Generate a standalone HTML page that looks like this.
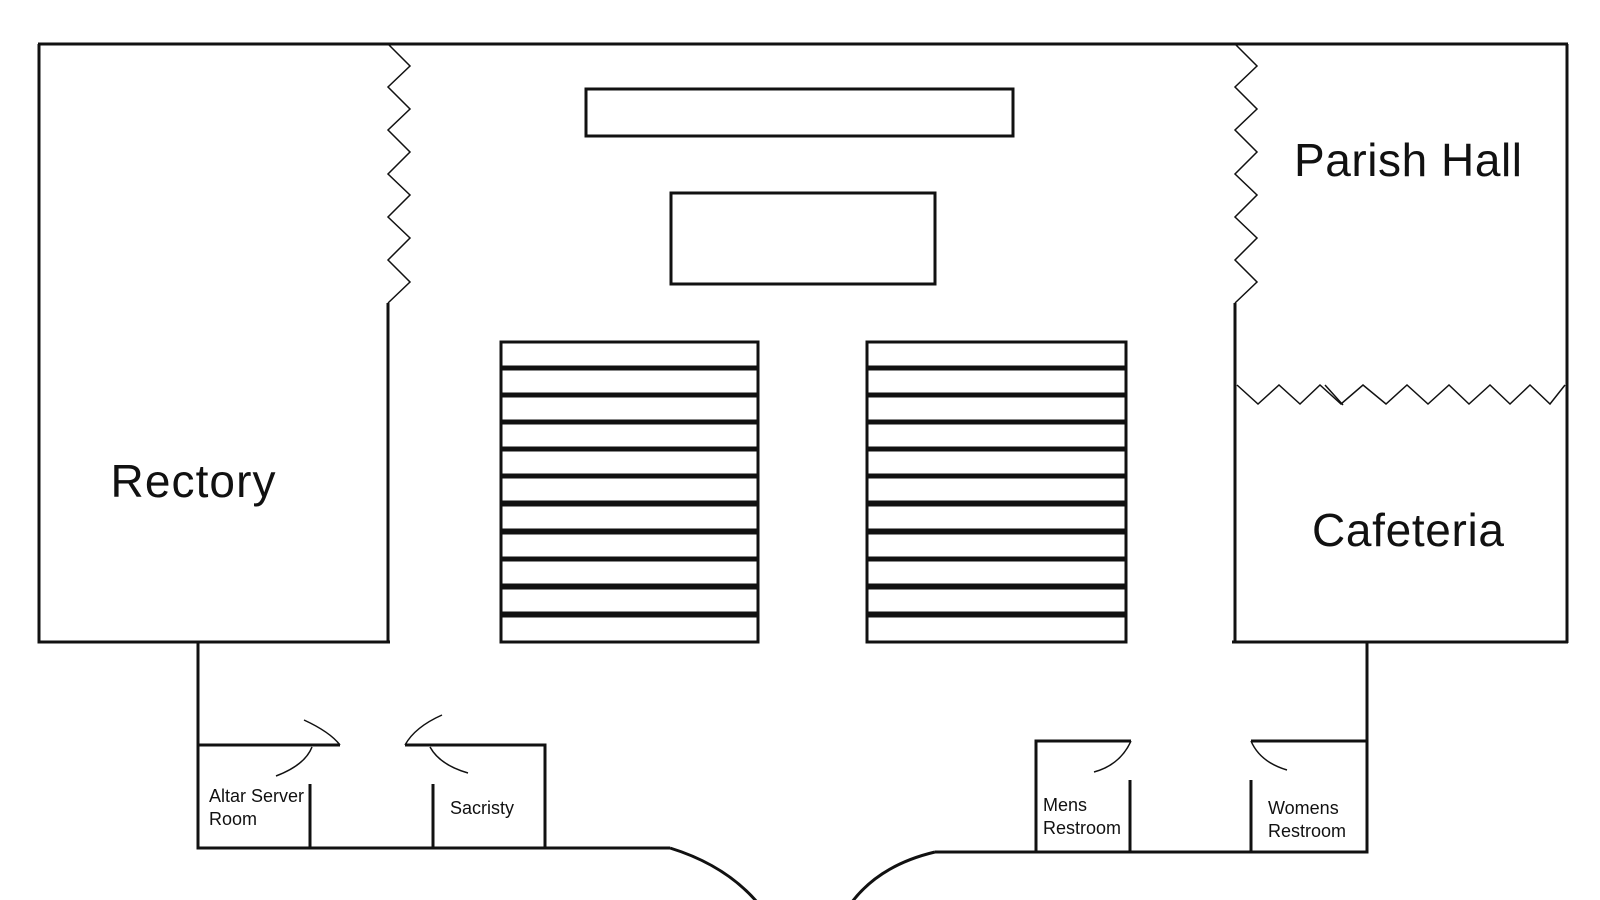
<!DOCTYPE html>
<html><head><meta charset="utf-8"><style>
html,body{margin:0;padding:0;background:#fff;}
svg{display:block;}
text{font-family:"Liberation Sans",sans-serif;fill:#111;}
</style></head><body>
<svg width="1600" height="900" viewBox="0 0 1600 900" xmlns="http://www.w3.org/2000/svg">
<g fill="none" stroke="#111" stroke-width="3">
<!-- outer top -->
<line x1="38" y1="44" x2="1568" y2="44"/>
<!-- Rectory -->
<polyline points="39,44 39,642 390,642"/>
<line x1="388" y1="303" x2="388" y2="642"/>
<!-- right block -->
<line x1="1567" y1="44" x2="1567" y2="643"/>
<line x1="1235" y1="303" x2="1235" y2="642"/>
<line x1="1232" y1="642" x2="1568" y2="642"/>
<!-- tables -->
<rect x="586" y="89" width="427" height="47"/>
<rect x="671" y="193" width="264" height="91"/>
<!-- bottom left -->
<polyline points="198,642 198,848 670,848"/>
<line x1="198" y1="745" x2="340" y2="745"/>
<polyline points="405,745 545,745 545,848"/>
<line x1="310" y1="784" x2="310" y2="848"/>
<line x1="433" y1="784" x2="433" y2="848"/>
<path d="M670,848 Q725,865 757,902"/>
<!-- bottom right -->
<polyline points="1367,642 1367,852 935,852"/>
<polyline points="1036,852 1036,741 1131,741"/>
<line x1="1130" y1="780" x2="1130" y2="852"/>
<line x1="1251" y1="741" x2="1367" y2="741"/>
<line x1="1251" y1="780" x2="1251" y2="852"/>
<path d="M935,852 Q880,865 852,902"/>
</g>
<g fill="none" stroke="#111" stroke-width="1.5">
<polyline points="388,44 410,66 388,87 410,109 388,130 410,152 388,174 410,195 388,217 410,238 388,260 410,282 388,303"/>
<polyline points="1235,44 1257,66 1235,87 1257,109 1235,130 1257,152 1235,174 1257,195 1235,217 1257,238 1235,260 1257,282 1235,303"/>
<polyline points="1237,385 1258,404 1279,385 1300,404 1320,385 1341,404 1363,385 1386,404 1407,385 1428,404 1449,385 1469,404 1490,385 1510,404 1530,385 1550,404 1565,385"/>
<line x1="1325" y1="385" x2="1343" y2="405"/>
<!-- door arcs -->
<path d="M304,720 Q330,732 340,745"/>
<path d="M312,747 Q305,765 276,776"/>
<path d="M442,715 Q415,727 405,745"/>
<path d="M430,747 Q440,765 468,773"/>
<path d="M1131,741 Q1120,765 1094,772"/>
<path d="M1251,741 Q1260,762 1287,770"/>
</g>
<g fill="#fff" stroke="#111" stroke-width="3">
<rect x="501" y="342" width="257" height="25"/>
<rect x="501" y="369" width="257" height="25"/>
<rect x="501" y="396" width="257" height="25"/>
<rect x="501" y="423" width="257" height="25"/>
<rect x="501" y="450" width="257" height="25"/>
<rect x="501" y="477" width="257" height="25"/>
<rect x="501" y="505" width="257" height="25"/>
<rect x="501" y="533" width="257" height="25"/>
<rect x="501" y="560" width="257" height="25"/>
<rect x="501" y="588" width="257" height="25"/>
<rect x="501" y="616" width="257" height="26"/>
<rect x="867" y="342" width="259" height="25"/>
<rect x="867" y="369" width="259" height="25"/>
<rect x="867" y="396" width="259" height="25"/>
<rect x="867" y="423" width="259" height="25"/>
<rect x="867" y="450" width="259" height="25"/>
<rect x="867" y="477" width="259" height="25"/>
<rect x="867" y="505" width="259" height="25"/>
<rect x="867" y="533" width="259" height="25"/>
<rect x="867" y="560" width="259" height="25"/>
<rect x="867" y="588" width="259" height="25"/>
<rect x="867" y="616" width="259" height="26"/>
</g>
<text x="193" y="497" font-size="46" text-anchor="middle" textLength="165">Rectory</text>
<text x="1408" y="176" font-size="46" text-anchor="middle" textLength="228">Parish Hall</text>
<text x="1408" y="546" font-size="46" text-anchor="middle" textLength="192">Cafeteria</text>
<g font-size="18">
<text x="209" y="802">Altar Server</text>
<text x="209" y="825">Room</text>
<text x="450" y="814">Sacristy</text>
<text x="1043" y="811">Mens</text>
<text x="1043" y="834">Restroom</text>
<text x="1268" y="814">Womens</text>
<text x="1268" y="837">Restroom</text>
</g>
</svg>
</body></html>
